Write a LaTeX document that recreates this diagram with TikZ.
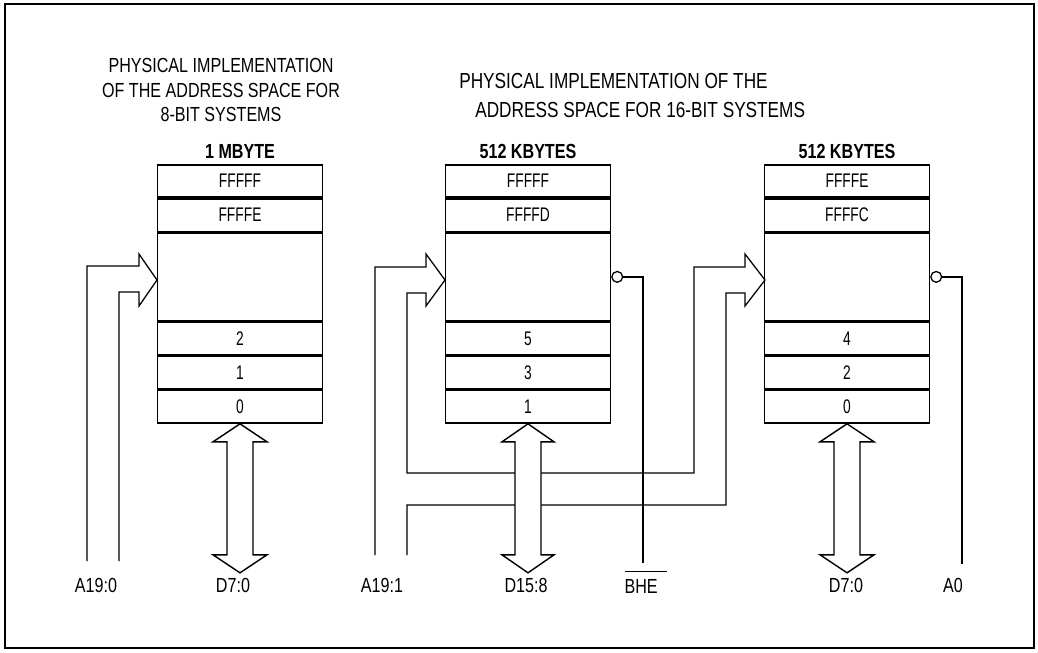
\documentclass[tikz,border=0pt]{standalone}
\usepackage{fontspec}
\setmainfont{Liberation Sans}[FakeStretch=0.79]
\newfontfamily\cellfont{Liberation Sans}[FakeStretch=0.7]
\usepackage{tikz}
\usetikzlibrary{positioning}
\tikzset{
  cellbox/.style={
    draw,line width=1.1pt,
    minimum width=4.12cm,minimum height=0.8125cm,
    inner sep=0pt,font=\cellfont\fontsize{14}{16}\selectfont
  },
  gapbox/.style={cellbox,minimum height=2.2cm},
  headlbl/.style={font=\fontsize{14.5}{17}\selectfont\bfseries},
  titlelbl/.style={font=\fontsize{14.5}{17.4}\selectfont,align=center,inner sep=0pt},
  wtitlelbl/.style={font=\fontsize{15.5}{18}\selectfont,anchor=west,inner sep=0pt},
  pinlbl/.style={font=\fontsize{14.5}{17}\selectfont,inner sep=0pt},
  bubble/.style={draw,circle,line width=0.9pt,minimum size=0.27cm,inner sep=0pt},
  wire/.style={line width=0.9pt},
  busbody/.style={draw,fill=white,line width=1pt,line join=miter},
}

\begin{document}
\begin{tikzpicture}[x=0.025cm,y=-0.025cm,node distance=0pt]
  \useasboundingbox (0,0) rectangle (1038,652);
  \draw[line width=1.6pt] (5,4) rectangle (1034,648);

  % titles
  \node[titlelbl] (ttl8) at (221,90) {PHYSICAL IMPLEMENTATION\\OF THE ADDRESS SPACE FOR\\8-BIT SYSTEMS};
  \node[wtitlelbl] (ttl16a) at (459,81) {PHYSICAL IMPLEMENTATION OF THE};
  \node[wtitlelbl] (ttl16b) at (475,110) {ADDRESS SPACE FOR 16-BIT SYSTEMS};

  % 8-bit memory
  \node[headlbl] (hd1) at (240,151) {1 MBYTE};
  \node[cellbox] (m1a) at (240,181) {FFFFF};
  \node[cellbox,below=of m1a] (m1b) {FFFFE};
  \node[gapbox,below=of m1b] (m1c) {};
  \node[cellbox,below=of m1c] (m1d) {2};
  \node[cellbox,below=of m1d] (m1e) {1};
  \node[cellbox,below=of m1e] (m1f) {0};

  % 16-bit memory, odd bank
  \node[headlbl] (hd2) at (528,151) {512 KBYTES};
  \node[cellbox] (m2a) at (528,181) {FFFFF};
  \node[cellbox,below=of m2a] (m2b) {FFFFD};
  \node[gapbox,below=of m2b] (m2c) {};
  \node[cellbox,below=of m2c] (m2d) {5};
  \node[cellbox,below=of m2d] (m2e) {3};
  \node[cellbox,below=of m2e] (m2f) {1};
  \node[bubble,right=of m2c] (inv2) {};

  % 16-bit memory, even bank
  \node[headlbl] (hd3) at (847,151) {512 KBYTES};
  \node[cellbox] (m3a) at (847,181) {FFFFE};
  \node[cellbox,below=of m3a] (m3b) {FFFFC};
  \node[gapbox,below=of m3b] (m3c) {};
  \node[cellbox,below=of m3c] (m3d) {4};
  \node[cellbox,below=of m3d] (m3e) {2};
  \node[cellbox,below=of m3e] (m3f) {0};
  \node[bubble,right=of m3c] (inv3) {};

  % pin labels
  \node[pinlbl] (a190) at (96,585) {A19:0};
  \node[pinlbl] (d70a) at (233,585) {D7:0};
  \node[pinlbl] (a191) at (382,585) {A19:1};
  \node[pinlbl] (d158) at (526,585) {D15:8};
  \node[pinlbl] (bhe) at (646,582) {$\overline{\mbox{BHE\kern7pt}\rule{0pt}{15pt}}$};
  \node[pinlbl] (d70b) at (846,585) {D7:0};
  \node[pinlbl] (a0) at (953,585) {A0};
  \coordinate (bheend) at (643,563);
  \coordinate (a0end) at (962,564);

  % address buses
  \draw[wire,line join=miter] (87,561) -- (87,266) -- (139,266) -- (139,254) -- (157,280)
    -- (139,306) -- (139,292) -- (119,292) -- (119,561);
  \draw[wire,line join=miter] (375,555) -- (375,267) -- (426,267) -- (426,254) -- (445,280)
    -- (426,306) -- (426,293) -- (407,293) -- (407,473) -- (694,473) -- (694,267)
    -- (745,267) -- (745,254) -- (765,280) -- (745,306) -- (745,293) -- (726,293)
    -- (726,505) -- (407,505) -- (407,555);

  % enables
  \draw[wire] (inv2.east) -| (bheend);
  \draw[wire] (inv3.east) -| (a0end);

  % data buses
  \draw[busbody] (m1f.south) -- ++(27,18) -- ++(-14,0) -- ++(0,113) -- ++(14,0) -- ++(-27,18)
    -- ++(-27,-18) -- ++(14,0) -- ++(0,-113) -- ++(-14,0) -- cycle;
  \draw[busbody] (m2f.south) -- ++(26,18) -- ++(-13,0) -- ++(0,113) -- ++(13,0) -- ++(-26,18)
    -- ++(-26,-18) -- ++(13,0) -- ++(0,-113) -- ++(-13,0) -- cycle;
  \draw[busbody] (m3f.south) -- ++(27,18) -- ++(-14,0) -- ++(0,113) -- ++(14,0) -- ++(-27,18)
    -- ++(-27,-18) -- ++(14,0) -- ++(0,-113) -- ++(-14,0) -- cycle;
\end{tikzpicture}
\end{document}
